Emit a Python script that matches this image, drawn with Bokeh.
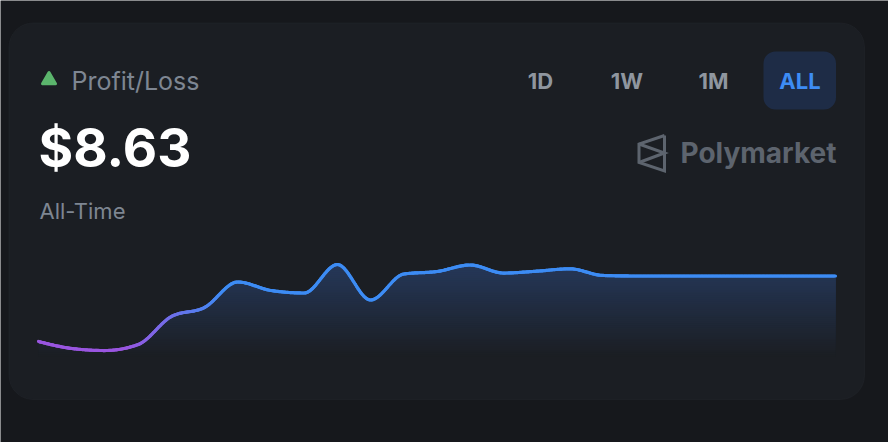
import numpy as np
from bokeh.plotting import figure
from bokeh.models import Range1d, BoxAnnotation, Label
from bokeh.embed import file_html
from bokeh.resources import INLINE

# ---- data -------------------------------------------------------------
periods = list(range(25))
pnl = [0.00, -0.92, -1.19, -0.40, 3.29, 4.48, 7.84, 6.72, 6.39, 10.14,
       5.47, 8.89, 9.22, 10.08, 9.02, 9.26, 9.58, 8.70, 8.63, 8.63,
       8.63, 8.63, 8.63, 8.63, 8.63]
title = "Profit/Loss"
subtitle = "All-Time"
range_buttons = ["1D", "1W", "1M", "ALL"]
active_button = "ALL"
brand = "Polymarket"
headline = f"${pnl[-1]:.2f}"

# ---- layout / style ---------------------------------------------------
W, H = 888, 442
PAGE = "#16181c"
CARD = "#1b1e23"
BORDER = "#2a2e35"
MUTED = "#7e8692"
BTN = "#8f969f"
BLUE = "#3d8cf4"
BRAND = "#5d646e"
GREEN = "#5bb56c"
FONT = "Inter"

X0, X1 = 38.0, 835.0          # chart left/right edge (px)
Y_ZERO, K = 341.0, 7.59       # px row of $0 and px per dollar
AREA_TOP, AREA_BOT = 262.0, 356.0


def Y(y):
    """top-down pixel row -> figure y"""
    return H - y


p = figure(width=W, height=H, x_range=Range1d(0, W), y_range=Range1d(0, H),
           x_axis_type=None, y_axis_type=None, toolbar_location=None,
           output_backend="svg", min_border=0,
           background_fill_color=PAGE, border_fill_color=PAGE,
           outline_line_color=None)

# card
p.add_layout(BoxAnnotation(left=8.5, right=864, bottom=Y(399), top=Y(22.5),
                           fill_color=CARD, fill_alpha=1, line_color=BORDER,
                           line_width=1, border_radius=24, level="underlay"))


def text(x, y, s, size, color, bold=False, align="left"):
    p.add_layout(Label(x=x, y=Y(y), text=s, text_font=FONT,
                       text_font_size=size,
                       text_font_style="bold" if bold else "normal",
                       text_color=color, text_align=align,
                       text_baseline="middle"))


# ---- header -----------------------------------------------------------
p.scatter(x=[48.5], y=[Y(79.5)], marker="triangle", size=13,
          fill_color=GREEN, line_color=GREEN, line_width=3, line_join="round")
text(71, 80, title, "25px", MUTED)
text(38, 147.5, headline, "53px", "#ffffff", bold=True)
text(39, 210.5, subtitle, "22px", MUTED)

# range selector
btn_centers = [540, 626.5, 713, 799.5]
for name, cx_ in zip(range_buttons, btn_centers):
    active = name == active_button
    if active:
        p.add_layout(BoxAnnotation(left=cx_ - 36.5, right=cx_ + 36, top=Y(51),
                                   bottom=Y(109), fill_color="#1e2c46",
                                   fill_alpha=1, line_color=None,
                                   border_radius=12, level="underlay"))
    text(cx_, 80, name, "22px", BLUE if active else BTN, bold=True,
         align="center")

# brand mark + wordmark
lx0, lx1 = 638.5, 664
p.multi_line(xs=[[lx1, lx0, lx0, lx1, lx1], [lx0, lx1, lx0]],
             ys=[[Y(135), Y(143.5), Y(162), Y(170.5), Y(135)],
                 [Y(143.5), Y(152.5), Y(162)]],
             line_color=BRAND, line_width=3, line_join="miter")
text(836, 152, brand, "28px", BRAND, bold=True, align="right")

# ---- chart scales -----------------------------------------------------
step = (X1 - X0) / (len(periods) - 1)
p.extra_x_ranges = {"t": Range1d(periods[0] - X0 / step,
                                 periods[0] + (W - X0) / step)}
p.extra_y_ranges = {"v": Range1d((Y_ZERO - H) / K, Y_ZERO / K)}


def monotone_path(x, y, n=24):
    """Sample a monotone cubic (Fritsch-Carlson) path through the points."""
    x = np.asarray(x, float)
    y = np.asarray(y, float)
    h = np.diff(x)
    s = np.diff(y) / h
    m = np.zeros_like(y)
    for i in range(1, len(y) - 1):
        s0, s1 = s[i - 1], s[i]
        pp = (s0 * h[i] + s1 * h[i - 1]) / (h[i - 1] + h[i])
        m[i] = (np.sign(s0) + np.sign(s1)) * min(abs(s0), abs(s1), 0.5 * abs(pp))
    m[0] = (3 * s[0] - m[1]) / 2
    m[-1] = (3 * s[-1] - m[-2]) / 2
    xs, ys = [], []
    for i in range(len(h)):
        t = np.linspace(0, 1, n, endpoint=False)
        h00 = 2 * t**3 - 3 * t**2 + 1
        h10 = t**3 - 2 * t**2 + t
        h01 = -2 * t**3 + 3 * t**2
        h11 = t**3 - t**2
        xs.append(x[i] + t * h[i])
        ys.append(h00 * y[i] + h10 * h[i] * m[i] + h01 * y[i + 1] + h11 * h[i] * m[i + 1])
    xs.append([x[-1]])
    ys.append([y[-1]])
    return np.concatenate(xs), np.concatenate(ys)


cx, cy = monotone_path(periods, pnl)


def mix(c0, c1, f):
    f = min(max(f, 0.0), 1.0)
    return "#%02x%02x%02x" % tuple(int(round(a + (b - a) * f)) for a, b in zip(c0, c1))


# vertical gradient under the line (stacked bands)
fill_top = (37, 56, 90)
fill_bot = (27, 30, 35)
v_bot = (Y_ZERO - AREA_BOT) / K
v_top = (Y_ZERO - AREA_TOP) / K
n_bands = 48
for k in range(n_bands):
    lvl = v_bot + (v_top - v_bot) * k / n_bands
    p.varea(x=cx, y1=np.full_like(cy, lvl), y2=np.maximum(cy, lvl),
            fill_color=mix(fill_bot, fill_top, k / (n_bands - 1)),
            x_range_name="t", y_range_name="v")

# line with purple -> blue horizontal gradient
purple = (154, 86, 224)
blue = (61, 140, 244)
seg_px = X0 + (cx[:-1] + cx[1:]) / 2 * step
seg_colors = [mix(purple, blue, (px - 125) / (225 - 125)) for px in seg_px]
p.segment(x0=cx[:-1], y0=cy[:-1], x1=cx[1:], y1=cy[1:], line_color=seg_colors,
          line_width=3.2, line_cap="round", x_range_name="t", y_range_name="v")

open("out.html", "w").write(file_html(p, INLINE))
